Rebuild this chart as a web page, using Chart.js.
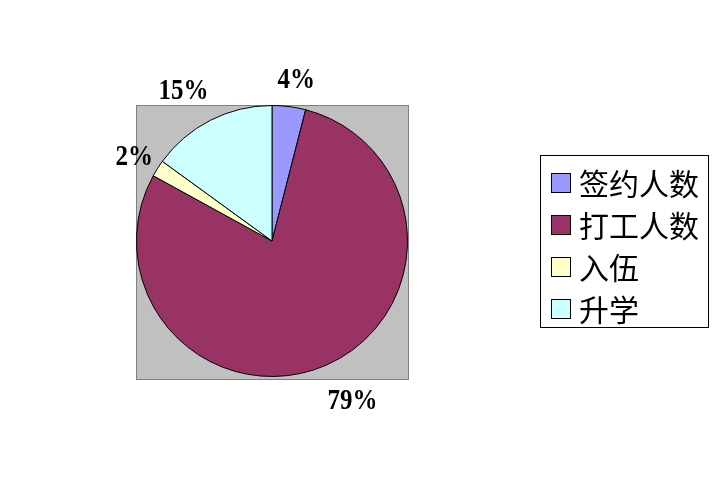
<!DOCTYPE html>
<html><head><meta charset="utf-8">
<script src="https://cdn.jsdelivr.net/npm/chart.js@4/dist/chart.umd.min.js"></script>
<style>html,body{margin:0;padding:0;background:#fff;}canvas{display:block;}</style>
</head><body>
<canvas id="c" width="724" height="485"></canvas>
<script>
const categories = ['签约人数', '打工人数', '入伍', '升学'];
const values = [4, 79, 2, 15];
const pctLabels = ['4%', '79%', '2%', '15%'];
const colors = ['#9999FF', '#993366', '#FFFFCC', '#CCFFFF'];

const labelGaps = [15, 27, 9, 21];
const labelShiftX = [3, 6, 0, -6];

const bgPlugin = {
  id: 'bgRect',
  beforeDatasetsDraw(chart) {
    const ctx = chart.ctx, a = chart.chartArea;
    ctx.save();
    ctx.fillStyle = '#C0C0C0';
    ctx.fillRect(a.left, a.top, a.right - a.left, a.bottom - a.top + 2);
    ctx.strokeStyle = '#808080';
    ctx.lineWidth = 1;
    ctx.strokeRect(a.left + 0.5, a.top + 0.5, a.right - a.left, a.bottom - a.top + 2);
    ctx.restore();
  }
};

const labelPlugin = {
  id: 'pctLabels',
  afterDatasetsDraw(chart) {
    const ctx = chart.ctx;
    const meta = chart.getDatasetMeta(0);
    const sy = 1.2;
    ctx.save();
    ctx.font = 'bold 25px "Liberation Serif", serif';
    ctx.fillStyle = '#000';
    ctx.textBaseline = 'middle';
    ctx.textAlign = 'center';
    meta.data.forEach((arc, i) => {
      const mid = (arc.startAngle + arc.endAngle) / 2;
      const r = arc.outerRadius + labelGaps[i];
      const px = arc.x + Math.cos(mid) * r;
      const py = arc.y + Math.sin(mid) * r;
      const w = ctx.measureText(pctLabels[i]).width;
      const h = 24;
      const cx = px + Math.cos(mid) * w / 2 + labelShiftX[i];
      const cy = py + Math.sin(mid) * h / 2;
      ctx.save();
      ctx.translate(cx, cy);
      ctx.scale(1, sy);
      ctx.fillText(pctLabels[i], 0, 0);
      ctx.restore();
    });
    ctx.restore();
  }
};

const legendPlugin = {
  id: 'boxLegend',
  afterDraw(chart) {
    const ctx = chart.ctx;
    ctx.save();
    ctx.strokeStyle = '#000';
    ctx.lineWidth = 1;
    ctx.strokeRect(540.5, 155.5, 168, 172);
    ctx.font = '30px "Noto Sans CJK SC", sans-serif';
    ctx.textBaseline = 'middle';
    ctx.textAlign = 'left';
    chart.data.labels.forEach((lab, i) => {
      const y = 183 + i * 42;
      ctx.fillStyle = chart.data.datasets[0].backgroundColor[i];
      ctx.fillRect(551, y - 10, 20, 20);
      ctx.strokeStyle = '#000';
      ctx.strokeRect(551.5, y - 9.5, 19, 19);
      ctx.fillStyle = '#000';
      ctx.fillText(lab, 579, y + 1);
    });
    ctx.restore();
  }
};

new Chart(document.getElementById('c'), {
  type: 'pie',
  data: {
    labels: categories,
    datasets: [{
      data: values,
      backgroundColor: colors,
      borderColor: '#000',
      borderWidth: 1
    }]
  },
  options: {
    responsive: false,
    animation: false,
    rotation: 0,
    layout: { padding: { left: 136, right: 316, top: 105, bottom: 108 } },
    plugins: { legend: { display: false }, tooltip: { enabled: false } }
  },
  plugins: [bgPlugin, labelPlugin, legendPlugin]
});
</script>
</body></html>
